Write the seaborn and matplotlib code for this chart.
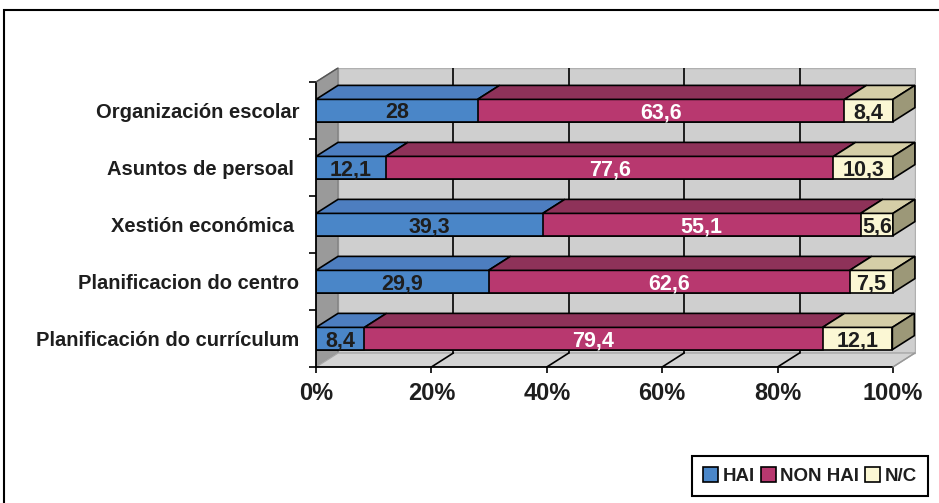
import numpy as np
import pandas as pd
import matplotlib
matplotlib.use("Agg")
import matplotlib.pyplot as plt
import seaborn as sns
from matplotlib.patches import Polygon, Rectangle

categories = ["Organización escolar", "Asuntos de persoal ", "Xestión económica ",
              "Planificacion do centro", "Planificación do currículum"]
series_names = ["HAI", "NON HAI", "N/C"]
hai = [28, 12.1, 39.3, 29.9, 8.4]
non_hai = [63.6, 77.6, 55.1, 62.6, 79.4]
nc = [8.4, 10.3, 5.6, 7.5, 12.1]
hai_labels = ["28", "12,1", "39,3", "29,9", "8,4"]
non_hai_labels = ["63,6", "77,6", "55,1", "62,6", "79,4"]
nc_labels = ["8,4", "10,3", "5,6", "7,5", "12,1"]
xticks = [0, 20, 40, 60, 80, 100]
xtick_labels = ["0%", "20%", "40%", "60%", "80%", "100%"]

front_cols = ["#4A86C8", "#B8386F", "#FBF7D4"]
top_cols = ["#4D7EC0", "#8E3259", "#D5CEA7"]
side_col = "#9C9878"
text_cols = ["#1e1e1e", "white", "#1e1e1e"]

sns.set_theme(style="white")
plt.rcParams['font.family'] = ['Liberation Sans', 'DejaVu Sans']

W, H = 939, 503
fig = plt.figure(figsize=(W / 100, H / 100), dpi=100)
ax = fig.add_axes([316 / W, 136 / H, 600 / W, 299 / H])

dx = 22 / (600 / 104)   # depth in x units
dy = 14 / 57.0          # depth in y units
bw = 0.39

df = pd.DataFrame({"cat": categories, "HAI": hai, "NON HAI": non_hai, "N/C": nc})
df["c1"] = df["HAI"]
df["c2"] = df["HAI"] + df["NON HAI"]
df["c3"] = df["c2"] + df["N/C"]

# walls
wall_z = 0.2
ax.add_patch(Polygon([(dx, -0.5 - dy), (100 + dx, -0.5 - dy), (100 + dx, 4.5 - dy), (dx, 4.5 - dy)],
                     closed=True, facecolor="#CFCFCF", edgecolor="#B0B0B0", lw=1.0, zorder=wall_z))
ax.add_patch(Polygon([(0, -0.5), (dx, -0.5 - dy), (dx, 4.5 - dy), (0, 4.5)],
                     closed=True, facecolor="#9A9A9A", edgecolor="#808080", lw=1.0, zorder=wall_z))
ax.add_patch(Polygon([(0, 4.5), (dx, 4.5 - dy), (100 + dx, 4.5 - dy), (100, 4.5)],
                     closed=True, facecolor="#D3D3D3", edgecolor="#A8A8A8", lw=1.0, zorder=wall_z))
for xt in xticks[1:-1]:
    ax.plot([xt + dx, xt + dx], [-0.5 - dy, 4.5 - dy], color="black", lw=1.2, zorder=0.3)
    ax.plot([xt, xt + dx], [4.5, 4.5 - dy], color="black", lw=1.2, zorder=0.3)

# front faces via seaborn (cumulative layering)
for col, c in zip(["c3", "c2", "c1"], front_cols[::-1]):
    sns.barplot(data=df, x=col, y="cat", color=c, saturation=1, width=bw, orient="h",
                edgecolor="black", linewidth=1.2, ax=ax, zorder=2)

# top and side faces + labels
vals = [hai, non_hai, nc]
labs = [hai_labels, non_hai_labels, nc_labels]
for i in range(len(categories)):
    y0 = i - bw / 2
    y1 = i + bw / 2
    left = 0
    for s in range(3):
        right = left + vals[s][i]
        ax.add_patch(Polygon([(left, y0), (left + dx, y0 - dy), (right + dx, y0 - dy), (right, y0)],
                             closed=True, facecolor=top_cols[s], edgecolor="black", lw=1.2, zorder=2.5))
        ax.text((left + right) / 2, i + 0.04, labs[s][i], ha="center", va="center",
                fontsize=15.5, fontweight="bold", color=text_cols[s], zorder=4)
        left = right
    ax.add_patch(Polygon([(left, y0), (left + dx, y0 - dy), (left + dx, y1 - dy), (left, y1)],
                         closed=True, facecolor=side_col, edgecolor="black", lw=1.2, zorder=2.5))

# axis lines
ax.plot([0, 100], [4.5, 4.5], color="black", lw=1.3, zorder=3, clip_on=False)
ax.plot([0, 0], [-0.5, 4.5], color="black", lw=1.3, zorder=3, clip_on=False)
ax.plot([0, dx], [-0.5, -0.5 - dy], color="#555555", lw=1.0, zorder=3, clip_on=False)
ax.plot([100, 100 + dx], [4.5, 4.5 - dy], color="#999999", lw=1.0, zorder=3, clip_on=False)

ax.set_xlim(0, 104)
ax.set_ylim(4.5, -0.5 - dy)
for sp in ax.spines.values():
    sp.set_visible(False)
ax.set_xlabel("")
ax.set_ylabel("")
ax.set_xticks(xticks)
ax.set_xticklabels(xtick_labels, fontsize=17, fontweight="bold", color="#1e1e1e")
ax.set_yticks(range(len(categories)))
ax.set_yticklabels(categories, fontsize=14.5, fontweight="bold", color="#1e1e1e")
ax.set_yticks(np.arange(-0.5, 5, 1), minor=True)
ax.tick_params(axis="y", which="major", length=0, pad=12)
ax.tick_params(axis="y", which="minor", length=5, width=1.2, color="black", direction="out", left=True)
ax.tick_params(axis="x", which="major", length=4, width=1.2, color="black", direction="out", pad=7, bottom=True)
ax.grid(False)

# legend
handles = [Rectangle((0, 0), 1, 1, facecolor=c, edgecolor="black", lw=1.2) for c in front_cols]
leg = fig.legend(handles, series_names, loc="center", bbox_to_anchor=(810 / W, 1 - 476 / H),
                 ncol=3, frameon=True, fancybox=False, edgecolor="black", framealpha=1,
                 prop={"weight": "bold", "size": 13.5}, handlelength=0.8, handleheight=0.8,
                 handletextpad=0.25, columnspacing=0.3, borderpad=0.6, borderaxespad=0)
leg.get_frame().set_linewidth(1.5)
for t in leg.get_texts():
    t.set_color("#1e1e1e")

# outer frame
fig.patches.append(Rectangle((3.5 / W, -0.1), 1.2, (493 / H) + 0.1, transform=fig.transFigure,
                             fill=False, edgecolor="black", lw=1.5, clip_on=False))

fig.savefig("out.png", dpi=100)
